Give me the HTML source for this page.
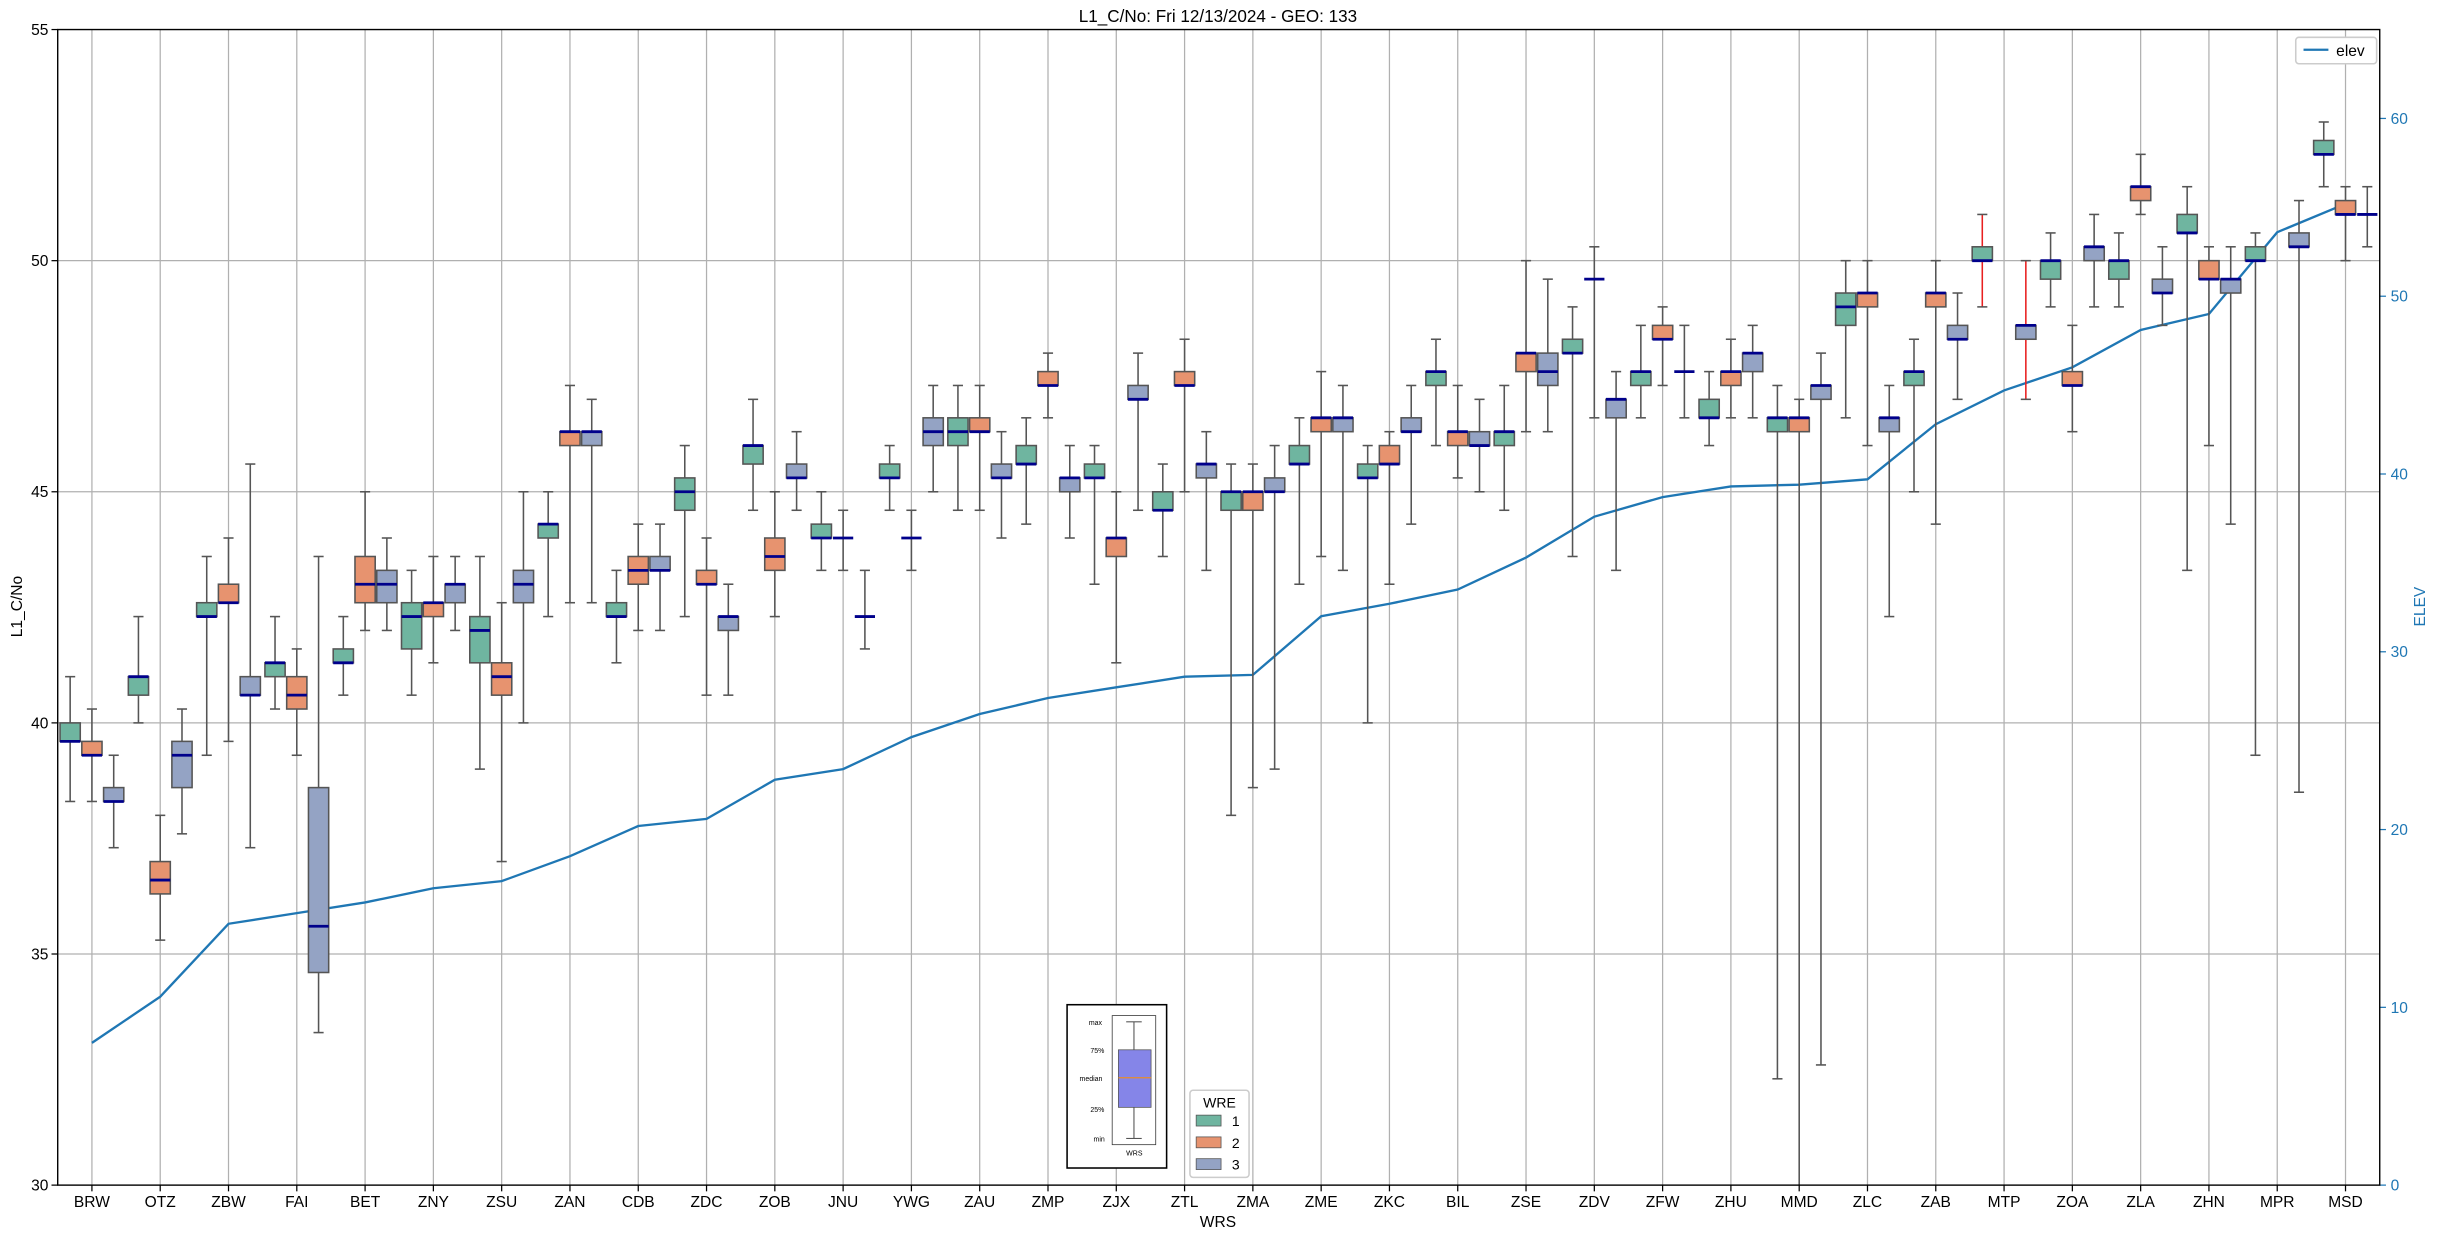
<!DOCTYPE html>
<html><head><meta charset="utf-8"><style>
html,body{margin:0;padding:0;background:#fff}
svg{display:block;font-family:"Liberation Sans","DejaVu Sans",sans-serif}
</style></head><body>
<svg id="chart" width="2439" height="1238" viewBox="0 0 1568 796" xmlns="http://www.w3.org/2000/svg">
<rect x="0" y="0" width="1568" height="796" fill="#fff"/>
<text x="783" y="14" font-size="11" text-anchor="middle">L1_C/No: Fri 12/13/2024 - GEO: 133</text>
<g id="grid"></g><g id="line"></g><g id="boxes"></g><g id="axes"></g>
<text x="783" y="789" font-size="10" text-anchor="middle">WRS</text>
<text x="14" y="390" font-size="10" text-anchor="middle" transform="rotate(-90 14 390)">L1_C/No</text>
<text x="1559" y="390" font-size="10" fill="#1f77b4" text-anchor="middle" transform="rotate(-90 1559 390)">ELEV</text>
<g>
<rect x="1476" y="24" width="52" height="17" fill="#fff" stroke="#ccc" rx="2"/>
<line x1="1481" y1="32" x2="1497" y2="32" stroke="#1f77b4" stroke-width="1.5"/>
<text x="1502" y="36" font-size="10">elev</text>
</g>
<g>
<rect x="765" y="701" width="38" height="56" fill="#fff" stroke="#ccc" rx="2"/>
<text x="784" y="712" font-size="9" text-anchor="middle">WRE</text>
<rect x="769" y="717" width="16" height="7" fill="#6fb5a0" stroke="#555" stroke-width="0.5"/><text x="792" y="724" font-size="9">1</text>
<rect x="769" y="731" width="16" height="7" fill="#e7936f" stroke="#555" stroke-width="0.5"/><text x="792" y="738" font-size="9">2</text>
<rect x="769" y="745" width="16" height="7" fill="#94a3c4" stroke="#555" stroke-width="0.5"/><text x="792" y="752" font-size="9">3</text>
</g>
<g font-size="4.5">
<rect x="686" y="646" width="64" height="105" fill="#fff" stroke="#000" stroke-width="1"/>
<rect x="715" y="653" width="28" height="83" fill="#fff" stroke="#333" stroke-width="0.5"/>
<line x1="729" y1="657" x2="729" y2="732" stroke="#555" stroke-width="0.7"/>
<line x1="724" y1="657" x2="734" y2="657" stroke="#555" stroke-width="0.7"/>
<line x1="724" y1="732" x2="734" y2="732" stroke="#555" stroke-width="0.7"/>
<rect x="719" y="675" width="21" height="37" fill="#8585e8" stroke="#555" stroke-width="0.5"/>
<line x1="719" y1="693" x2="740" y2="693" stroke="#e98c2b" stroke-width="0.8"/>
<text x="700" y="659">max</text><text x="701" y="677">75%</text><text x="694" y="695">median</text><text x="701" y="715">25%</text><text x="703" y="734">min</text><text x="724" y="743">WRS</text>
</g>
</svg>
<script>
const categories=["BRW","OTZ","ZBW","FAI","BET","ZNY","ZSU","ZAN","CDB","ZDC","ZOB","JNU","YWG","ZAU","ZMP","ZJX","ZTL","ZMA","ZME","ZKC","BIL","ZSE","ZDV","ZFW","ZHU","MMD","ZLC","ZAB","MTP","ZOA","ZLA","ZHN","MPR","MSD"];
const elev=[8.0,10.6,14.7,15.3,15.9,16.7,17.1,18.5,20.2,20.6,22.8,23.4,25.2,26.5,27.4,28.0,28.6,28.7,32.0,32.7,33.5,35.3,37.6,38.7,39.3,39.4,39.7,42.8,44.7,46.0,48.1,49.0,53.6,55.2];
// [min,q1,median,q3,max]
const wre1=[[38.3,39.6,39.6,40.0,41.0],[40.0,40.6,41.0,41.0,42.3],[39.3,42.3,42.3,42.6,43.6],[40.3,41.0,41.3,41.3,42.3],[40.6,41.3,41.3,41.6,42.3],[40.6,41.6,42.3,42.6,43.3],[39.0,41.3,42.0,42.3,43.6],[42.3,44.0,44.3,44.3,45.0],[41.3,42.3,42.3,42.6,43.3],[42.3,44.6,45.0,45.3,46.0],[44.6,45.6,46.0,46.0,47.0],[43.3,44.0,44.0,44.3,45.0],[44.6,45.3,45.3,45.6,46.0],[44.6,46.0,46.3,46.6,47.3],[44.3,45.6,45.6,46.0,46.6],[43.0,45.3,45.3,45.6,46.0],[43.6,44.6,44.6,45.0,45.6],[38.0,44.6,45.0,45.0,45.6],[43.0,45.6,45.6,46.0,46.6],[40.0,45.3,45.3,45.6,46.0],[46.0,47.3,47.6,47.6,48.3],[44.6,46.0,46.3,46.3,47.3],[43.6,48.0,48.0,48.3,49.0],[46.6,47.3,47.6,47.6,48.6],[46.0,46.6,46.6,47.0,47.6],[32.3,46.3,46.6,46.6,47.3],[46.6,48.6,49.0,49.3,50.0],[45.0,47.3,47.6,47.6,48.3],[49.0,50.0,50.0,50.3,51.0],[49.0,49.6,50.0,50.0,50.6],[49.0,49.6,50.0,50.0,50.6],[43.3,50.6,50.6,51.0,51.6],[39.3,50.0,50.0,50.3,50.6],[51.6,52.3,52.3,52.6,53.0]];
const wre2=[[38.3,39.3,39.3,39.6,40.3],[35.3,36.3,36.6,37.0,38.0],[39.6,42.6,42.6,43.0,44.0],[39.3,40.3,40.6,41.0,41.6],[42.0,42.6,43.0,43.6,45.0],[41.3,42.3,42.6,42.6,43.6],[37.0,40.6,41.0,41.3,42.6],[42.6,46.0,46.3,46.3,47.3],[42.0,43.0,43.3,43.6,44.3],[40.6,43.0,43.0,43.3,44.0],[42.3,43.3,43.6,44.0,45.0],[43.3,44.0,44.0,44.0,44.6],[43.3,44.0,44.0,44.0,44.6],[44.6,46.3,46.3,46.6,47.3],[46.6,47.3,47.3,47.6,48.0],[41.3,43.6,44.0,44.0,45.0],[45.0,47.3,47.3,47.6,48.3],[38.6,44.6,45.0,45.0,45.6],[43.6,46.3,46.6,46.6,47.6],[43.0,45.6,45.6,46.0,46.3],[45.3,46.0,46.3,46.3,47.3],[46.3,47.6,48.0,48.0,50.0],[46.6,49.6,49.6,49.6,50.3],[47.3,48.3,48.3,48.6,49.0],[46.6,47.3,47.6,47.6,48.3],[29.5,46.3,46.6,46.6,47.0],[46.0,49.0,49.3,49.3,50.0],[44.3,49.0,49.3,49.3,50.0],null,[46.3,47.3,47.3,47.6,48.6],[51.0,51.3,51.6,51.6,52.3],[46.0,49.6,49.6,50.0,50.3],null,[50.0,51.0,51.0,51.3,51.6]];
const wre3=[[37.3,38.3,38.3,38.6,39.3],[37.6,38.6,39.3,39.6,40.3],[37.3,40.6,40.6,41.0,45.6],[33.3,34.6,35.6,38.6,43.6],[42.0,42.6,43.0,43.3,44.0],[42.0,42.6,43.0,43.0,43.6],[40.0,42.6,43.0,43.3,45.0],[42.6,46.0,46.3,46.3,47.0],[42.0,43.3,43.3,43.6,44.3],[40.6,42.0,42.3,42.3,43.0],[44.6,45.3,45.3,45.6,46.3],[41.6,42.3,42.3,42.3,43.3],[45.0,46.0,46.3,46.6,47.3],[44.0,45.3,45.3,45.6,46.3],[44.0,45.0,45.3,45.3,46.0],[44.6,47.0,47.0,47.3,48.0],[43.3,45.3,45.6,45.6,46.3],[39.0,45.0,45.0,45.3,46.0],[43.3,46.3,46.6,46.6,47.3],[44.3,46.3,46.3,46.6,47.3],[45.0,46.0,46.0,46.3,47.0],[46.3,47.3,47.6,48.0,49.6],[43.3,46.6,47.0,47.0,47.6],[46.6,47.6,47.6,47.6,48.6],[46.6,47.6,48.0,48.0,48.6],[32.6,47.0,47.3,47.3,48.0],[42.3,46.3,46.6,46.6,47.3],[47.0,48.3,48.3,48.6,49.3],[47.0,48.3,48.6,48.6,50.0],[49.0,50.0,50.3,50.3,51.0],[48.6,49.3,49.3,49.6,50.3],[44.3,49.3,49.6,49.6,50.3],[38.5,50.3,50.3,50.6,51.3],[50.3,51.0,51.0,51.0,51.6]];
const yTicks=[30,35,40,45,50,55];
const elevTicks=[0,10,20,30,40,50,60];

const NS="http://www.w3.org/2000/svg";
const L=37,R=1530,T=19,B=762;
function xPos(i){return 59+i*(1508-59)/(categories.length-1);}
function yPos(v){return B-(v-30)/(55-30)*(B-T);}
function yElev(v){return B-v*(B-T)/65;}
function mk(tag,attrs,parent){const e=document.createElementNS(NS,tag);for(const k in attrs)e.setAttribute(k,attrs[k]);parent.appendChild(e);return e;}
const grid=document.getElementById('grid'),axes=document.getElementById('axes'),boxes=document.getElementById('boxes'),lineG=document.getElementById('line');

categories.forEach((c,i)=>{
  const x=xPos(i);
  const g=mk('line',{x1:x,x2:x,y1:T,y2:B,stroke:'#b0b0b0','stroke-width':0.8},grid);
  
  
  mk('line',{x1:x,x2:x,y1:B,y2:B+4,stroke:'#000','stroke-width':0.8},axes);
  const t=mk('text',{x:x,y:B+14,'font-size':10,'text-anchor':'middle'},axes);
  t.textContent=c;
  
  
});
yTicks.forEach(v=>{
  const y=yPos(v);
  if(v>30&&v<55){const g=mk('line',{x1:L,x2:R,y1:y,y2:y,stroke:'#b0b0b0','stroke-width':0.8},grid);
  
  }
  mk('line',{x1:L-4,x2:L,y1:y,y2:y,stroke:'#000','stroke-width':0.8},axes);
  const t=mk('text',{x:L-6,y:y+3.5,'font-size':10,'text-anchor':'end'},axes);
  t.textContent=v;
  
  
});
elevTicks.forEach(v=>{
  const y=yElev(v);
  mk('line',{x1:R,x2:R+4,y1:y,y2:y,stroke:'#1f77b4','stroke-width':0.8},axes);
  const t=mk('text',{x:R+7,y:y+3.5,'font-size':10,fill:'#1f77b4'},axes);
  t.textContent=v;
  
  
});
const frame=mk('rect',{x:L,y:T,width:R-L,height:B-T,fill:'none',stroke:'#000','stroke-width':0.9},axes);



const series=[[wre1,-14,'#6fb5a0'],[wre2,0,'#e7936f'],[wre3,14,'#94a3c4']];
series.forEach(([data,off,col],si)=>{
  data.forEach((d,i)=>{
    if(!d)return;
    const x=xPos(i)+off,w=13;
    const g=mk('g',{},boxes);
    
    
    const wc=(categories[i]==='MTP')?'#e82020':'#555';
    mk('line',{x1:x,x2:x,y1:yPos(d[4]),y2:yPos(d[3]),stroke:wc,'stroke-width':1},g);
    mk('line',{x1:x,x2:x,y1:yPos(d[1]),y2:Math.min(yPos(d[0]),B),stroke:wc,'stroke-width':1},g);
    mk('line',{x1:x-w/4,x2:x+w/4,y1:yPos(d[4]),y2:yPos(d[4]),stroke:'#555','stroke-width':1},g);
    if(yPos(d[0])<=B)mk('line',{x1:x-w/4,x2:x+w/4,y1:yPos(d[0]),y2:yPos(d[0]),stroke:'#555','stroke-width':1},g);
    if(d[3]>d[1])mk('rect',{x:x-w/2,y:yPos(d[3]),width:w,height:yPos(d[1])-yPos(d[3]),fill:col,stroke:'#555','stroke-width':1},g);
    mk('line',{x1:x-w/2,x2:x+w/2,y1:yPos(d[2]),y2:yPos(d[2]),stroke:'#00008b','stroke-width':1.8},g);
  });
});
const pts=elev.map((v,i)=>xPos(i)+','+yElev(v)).join(' ');
const pl=mk('polyline',{points:pts,fill:'none',stroke:'#1f77b4','stroke-width':1.5},lineG);


</script>
</body></html>
